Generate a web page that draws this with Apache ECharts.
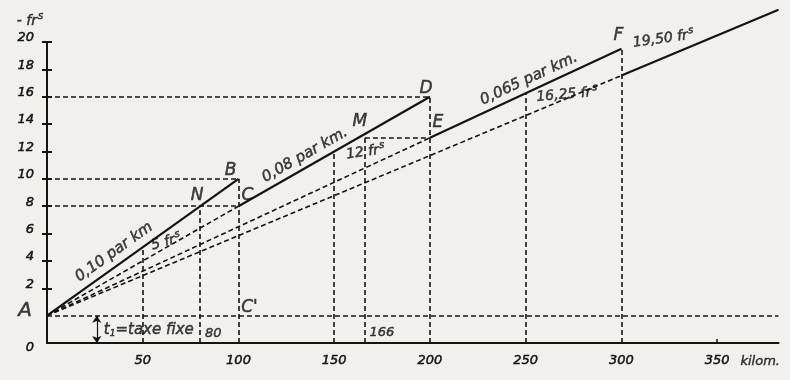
<!DOCTYPE html>
<html><head><meta charset="utf-8">
<script src="https://cdn.jsdelivr.net/npm/echarts@6/dist/echarts.min.js"></script>
<style>html,body{margin:0;padding:0;background:#f1f0ea}#c{width:790px;height:380px}</style>
</head><body><div id="c"></div>
<script>
// ---- data ----
const kmLabels = [50, 100, 150, 200, 250, 300, 350];
const fareLabels = [-2, 2, 4, 6, 8, 10, 12, 14, 16, 18, 20]; // -2 = baseline, printed "0"
const fareTicks = [2, 4, 6, 8, 10, 12, 14, 16, 18, 20];
const baseline = -2;
const kmMax = 382;
const ptA = [0, 0];
const ptB = [100, 10];
const ptC = [100, 8];
const ptD = [200, 16];
const ptE = [200, 13];
const ptF = [300, 19.5];
const ptG = [300, 17.55];
const ptH = [382, 22.35];
const ptN = [80, 8];
const ptM = [166, 13.28];
const solidSegments = [[ptA, ptB], [ptC, ptD], [ptE, ptF], [ptG, ptH]];
const dashedRays = [[ptA, ptC], [ptA, ptE], [ptA, ptG]];
const verticalDrops = [[50, 5], [80, 8], [100, 10], [150, 12], [166, 13.28], [200, 16], [250, 16.25], [300, 19.5]];
const horizontalGuides = [[8, 0, 100], [10, 0, 100], [16, 0, 200], [0, 0, 382], [13, 166, 200]];
const taxeFixeKm = 26;

const ink = '#141414';
const FONT = 'DejaVu Sans';
const heavy = {textBorderColor: ink, textBorderWidth: 0.5};

const dashedSegs = [];
dashedRays.forEach(s => dashedSegs.push(s));
verticalDrops.forEach(([x, y]) => dashedSegs.push([[x, baseline], [x, y]]));
horizontalGuides.forEach(([y, x0, x1]) => dashedSegs.push([[x0, y], [x1, y]]));

const supRich = {
  n: Object.assign({fontFamily: FONT, fontStyle: 'italic', fontSize: 14, color: ink}, heavy),
  s: Object.assign({fontFamily: FONT, fontStyle: 'italic', fontSize: 10, color: ink, padding: [0, 0, 9, 1]}, heavy)
};
function lab(pos, text, opt) {
  return {value: pos, label: Object.assign({show: true, position: 'inside', formatter: text,
    fontFamily: FONT, fontStyle: 'italic', fontSize: 17, color: ink, rich: supRich}, heavy, opt || {})};
}
const annotations = [
  lab(ptA, 'A', {offset: [-22, -5], fontSize: 20}),
  lab(ptB, 'B', {offset: [-8, -8]}),
  lab(ptC, 'C', {offset: [9, -11]}),
  lab([100, 0], "C'", {offset: [11, -8]}),
  lab(ptN, 'N', {offset: [-3, -11]}),
  lab(ptD, 'D', {offset: [-4, -8]}),
  lab(ptE, 'E', {offset: [8, -15]}),
  lab(ptM, 'M', {offset: [-5, -12]}),
  lab(ptF, 'F', {offset: [-3, -13]}),
  lab(ptF, '{n|19,50 fr}{s|s}', {offset: [43, -4], rotate: 8}),
  lab([250, 16.25], '{n|16,25 fr}{s|s}', {offset: [41, 5], rotate: 5}),
  lab([150, 12], '{n|12 fr}{s|s}', {offset: [31, 5], rotate: 8}),
  lab([50, 5], '{n|5 fr}{s|s}', {offset: [24, 1], rotate: 15}),
  lab([80, baseline], '80', {offset: [13, -9], fontSize: 13}),
  lab([166, baseline], '166', {offset: [17, -10], fontSize: 13}),
  lab([350, baseline], 'kilom.', {offset: [43, 19], fontSize: 13}),
  lab([0, 20], '{n|- fr}{s|s}', {offset: [-17, -21]}),
  lab([taxeFixeKm, -1], '{t|t}{b|1}{t|=taxe fixe}', {offset: [52, 1], rich: {
    t: Object.assign({fontFamily: FONT, fontStyle: 'italic', fontSize: 15, color: ink}, heavy),
    b: Object.assign({fontFamily: FONT, fontStyle: 'italic', fontSize: 9, color: ink, padding: [7, 0, 0, 0]}, heavy)}}),
  lab([35, 4.64], '0,10 par km', {rotate: 35.6, fontSize: 15}),
  lab([134.7, 11.74], '0,08 par km.', {rotate: 29.8, fontSize: 15}),
  lab([251.7, 17.3], '0,065 par km.', {rotate: 24.9, fontSize: 15})
];

const chart = echarts.init(document.getElementById('c'));
chart.setOption({
  backgroundColor: '#f1f0ea',
  animation: false,
  grid: {left: 47, right: 11.5, top: 42, bottom: 37, containLabel: false},
  xAxis: {
    type: 'value', min: 0, max: kmMax,
    axisLine: {onZero: false, lineStyle: {color: ink, width: 2}},
    axisTick: {show: true, inside: true, length: 4, customValues: [350], lineStyle: {color: ink, width: 1.5}},
    axisLabel: Object.assign({customValues: kmLabels, margin: 11, fontFamily: FONT, fontStyle: 'italic', fontSize: 13, color: ink}, heavy),
    splitLine: {show: false}
  },
  yAxis: [{
    type: 'value', min: baseline, max: 20,
    axisLine: {show: true, onZero: false, lineStyle: {color: ink, width: 2}},
    axisTick: {show: true, length: 5, customValues: fareTicks, lineStyle: {color: ink, width: 2}},
    axisLabel: {customValues: fareLabels, margin: 13, fontFamily: FONT, fontStyle: 'italic', fontSize: 13, color: ink,
      formatter: v => v === baseline ? '{z|0}' : '{u|' + v + '}',
      rich: {
        u: Object.assign({fontFamily: FONT, fontStyle: 'italic', fontSize: 13, color: ink, padding: [0, 0, 8, 0]}, heavy),
        z: Object.assign({fontFamily: FONT, fontStyle: 'italic', fontSize: 13, color: ink, padding: [10, 0, 0, 0]}, heavy)
      }},
    splitLine: {show: false}
  }, {
    type: 'value', min: baseline, max: 20, position: 'left',
    axisLine: {show: false, onZero: false},
    axisTick: {show: true, inside: true, length: 5, customValues: fareTicks, lineStyle: {color: ink, width: 2}},
    axisLabel: {show: false},
    splitLine: {show: false}
  }],
  series: [
    {type: 'lines', coordinateSystem: 'cartesian2d', clip: false, silent: true,
     lineStyle: {color: ink, width: 1.6, type: [5, 3], opacity: 1},
     data: dashedSegs.map(s => ({coords: s}))},
    {type: 'lines', coordinateSystem: 'cartesian2d', clip: false, silent: true,
     lineStyle: {color: ink, width: 2.2, type: 'solid', opacity: 1},
     data: solidSegments.map(s => ({coords: s}))},
    {type: 'lines', coordinateSystem: 'cartesian2d', clip: false, silent: true,
     symbol: ['arrow', 'arrow'], symbolSize: 7,
     lineStyle: {color: ink, width: 1.2, opacity: 1},
     data: [{coords: [[taxeFixeKm, baseline], [taxeFixeKm, 0]]}]},
    {type: 'scatter', symbolSize: 0, silent: true, clip: false, data: annotations}
  ]
});
</script></body></html>
